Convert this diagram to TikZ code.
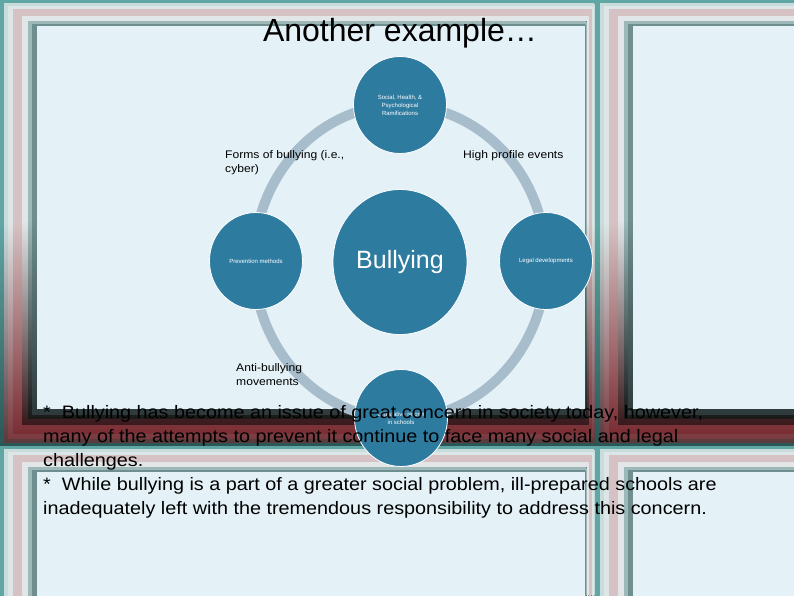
\documentclass[tikz,border=0pt]{standalone}
\usepackage{fontspec}
\setmainfont{Liberation Sans}
\newfontfamily\widesans[FakeStretch=1.1]{Liberation Sans}
\usetikzlibrary{positioning, shapes.geometric}

\definecolor{panel}{HTML}{E4F2F8}
\definecolor{bubble}{HTML}{2E7BA0}
\definecolor{ringgray}{HTML}{A8BDCC}
% frame stripes, light (top) and dark (bottom)
\definecolor{topa}{HTML}{5FA6A4}\definecolor{bota}{HTML}{2A5656}
\definecolor{topb}{HTML}{C9DCDC}\definecolor{botb}{HTML}{5A3A3C}
\definecolor{topc}{HTML}{DDE6E6}\definecolor{botc}{HTML}{7A3A40}
\definecolor{topd}{HTML}{D6C2C4}\definecolor{botd}{HTML}{7A2E34}
\definecolor{tope}{HTML}{E2E6E6}\definecolor{bote}{HTML}{3A1A1C}
\definecolor{topf}{HTML}{9CB8B8}\definecolor{botf}{HTML}{1A1A1A}
\definecolor{topg}{HTML}{6E8E90}\definecolor{botg}{HTML}{2E3A3C}

\begin{document}
\begin{tikzpicture}[x=1pt, y=-1pt,
  hub/.style  = {ellipse, draw=white, line width=0.8pt, fill=bubble, text=white,
                 minimum width=134pt, minimum height=145pt, font=\fontsize{25}{30}\selectfont},
  bub/.style  = {ellipse, draw=white, line width=0.8pt, fill=bubble, text=white,
                 minimum width=93pt, minimum height=97pt, inner sep=0pt, align=center,
                 font=\fontsize{6}{8}\selectfont},
  note/.style = {anchor=north west, inner sep=0pt, align=left, font=\widesans\fontsize{11}{14}\selectfont},
  ]
  \useasboundingbox (0,0) rectangle (794,595);

  % Background tiles
  \begin{scope}
    \clip (0,0) rectangle (794,595);
    \foreach \tx/\ty in {0/0, 596/0, 0/446, 596/446}{
      \foreach \d/\k in {0/a, 4/b, 8/c, 13/d, 22/e, 28/f, 32/g}
        \fill[top color=top\k, bottom color=bot\k, middle color=top\k]
          (\tx+\d, \ty+0.75*\d) rectangle (\tx+596-\d/3, \ty+446-\d);
      \fill[panel] (\tx+37, \ty+26) rectangle (\tx+585, \ty+409);
    }
  \end{scope}

  % Cycle ring
  \coordinate (mid) at (400,262);
  \draw[ringgray, line width=10pt] (mid) ellipse [x radius=146, y radius=157];

  % Circles
  \node (bully)   at (mid)     [hub] {Bullying};
  \node (ramif)   at (400,105) [bub] {Social, Health, \&\\Psychological\\Ramifications};
  \node (prevent) at (256,261) [bub] {Prevention methods};
  \node (legal)   at (546,261) [bub] {Legal developments};
  \node (policy)  at (401,418) [bub] {Legislative reform\\in schools};

  % Side labels
  \node (forms)    at (225,150) [note] {Forms of bullying (i.e.,\\cyber)};
  \node (highprof) at (463,150) [note] {High profile events};
  \node (antibull) at (236,363) [note] {Anti-bullying\\movements};

  % Title and body text
  \node (title) at (400,33) [font=\fontsize{32}{38}\selectfont] {Another example…};
  \node (body) at (43,405) [anchor=north west, inner sep=0pt, align=left,
    font=\widesans\fontsize{18}{24}\selectfont]
    {*\ \ Bullying has become an issue of great concern in society today, however,\\
     many of the attempts to prevent it continue to face many social and legal\\
     challenges.\\
     *\ \ While bullying is a part of a greater social problem, ill-prepared schools are\\
     inadequately left with the tremendous responsibility to address this concern.};
\end{tikzpicture}
\end{document}
